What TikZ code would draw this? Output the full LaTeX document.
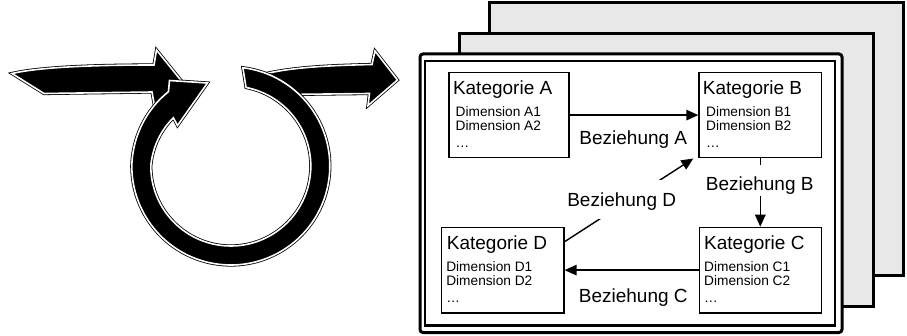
\documentclass[tikz,border=0pt]{standalone}
\usepackage{fontspec}
\setmainfont{Liberation Sans}
\usetikzlibrary{arrows.meta,calc}

\definecolor{sheetgray}{gray}{0.91}

\tikzset{
  loopshape/.style={fill=black, draw=black, double=white, double distance=1.6pt,
                    line width=0.8pt, line join=miter},
  sheet/.style={draw=black, line width=3pt, fill=sheetgray},
  catframe/.style={draw=black, line width=1.3pt, fill=white, rectangle,
                   inner sep=0pt, minimum height=85.5pt},
  cattitle/.style={font=\fontsize{19}{22}\selectfont, inner sep=0pt},
  catdim/.style={font=\fontsize{13.7}{15}\selectfont, inner sep=0pt},
  rellabel/.style={font=\fontsize{19}{22}\selectfont, fill=white, inner sep=0pt,
                   inner xsep=3pt, anchor=base},
  rel/.style={draw=black, line width=1.4pt, -{Triangle[length=12pt,width=10.5pt]}},
}

% category box: name, x and y of the top left corner, width, letter,
% indent of the title, indent of the dimension lines
\newcommand{\catbox}[7]{%
  \node[catframe, anchor=north west, minimum width=#4] (#1) at (#2,#3) {};
  \node[cattitle, anchor=base west] (#1title) at ($(#1.north west)+(#6,-23.2)$) {Kategorie #5};
  \node[catdim, anchor=base west] (#1dimone) at ($(#1.north west)+(#7,-44.8)$) {Dimension #51};
  \node[catdim, anchor=base west] (#1dimtwo) at ($(#1.north west)+(#7,-59.2)$) {Dimension #52};
  \node[catdim, anchor=base west] (#1more) at ($(#1.north west)+(#7,-76)$) {…};
}

\begin{document}
\begin{tikzpicture}[x=1pt, y=1pt]
\useasboundingbox (0,0) rectangle (907,335);

% stacked sheets
\draw[sheet] (489,332) rectangle (903,60);
\draw[sheet] (459,301) rectangle (873,29);
\draw[line width=3pt, fill=white, rounded corners=3pt] (420,281) rectangle (842,2.5);
\draw[line width=2.5pt] (425,274) rectangle (835,9.5);

% incoming arrow
\path[loopshape] (12,261.5) .. controls (40,268) and (95,270) .. (154,270)
  -- (156.5,285) -- (181.5,254) -- (155,226) -- (152,243) -- (44,241.5) -- cycle;

% outgoing arrow
\path[loopshape] (258,259.5) .. controls (290,268) and (330,269.5) .. (372,270.5)
  -- (375,284) -- (397.5,255) -- (368,229.5) -- (369.5,241.5) -- (285,240.5) -- cycle;

% circular arrow
\begin{scope}[shift={(230.8,169)}]
  \path[loopshape] (83:99) arc[start angle=83, end angle=-180, radius=99]
    -- plot[domain=-180:-230, samples=25] (\x:{99+2*(\x+180)/50})
    -- (-61.3,85.5) -- (-23.3,83) -- (-53.3,40.5)
    -- plot[domain=-220:-180, samples=25] (\x:{80+5*(\x+180)/40})
    arc[start angle=-180, end angle=79, radius=80] -- cycle;
\end{scope}

% categories
\catbox{A}{448.3}{263.3}{120pt}{A}{4.5}{7.2}
\catbox{B}{698.3}{263.3}{122.7pt}{B}{4.4}{7.6}
\catbox{D}{440.7}{108.3}{122.6pt}{D}{6}{5.4}
\catbox{C}{699}{108.3}{122pt}{C}{5}{5}

% relations
\draw[rel] (A.east) -- (B.west);
\draw[rel] (B.south) -- (B.south |- C.north);
\draw[rel] ($(D.north east)+(0,-15)$) -- ($(B.south west)+(-5,0)$);
\draw[rel] (C.west) -- (D.east);

\node[rellabel] (relA) at (633.3,190) {Beziehung A};
\node[rellabel, text height=25.2pt, text depth=4.8pt] (relB) at (759.7,144.3) {Beziehung B};
\node[rellabel, text height=26.7pt, text depth=12pt] (relD) at (621.7,128.3) {Beziehung D};
\node[rellabel] (relC) at (633.3,33) {Beziehung C};
\end{tikzpicture}
\end{document}
